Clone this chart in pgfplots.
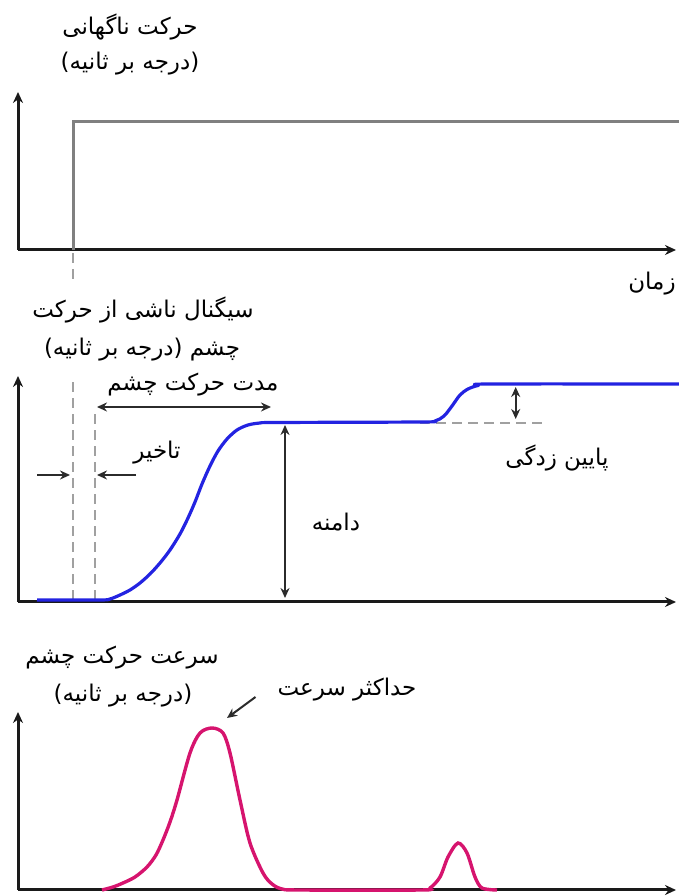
\documentclass[border=0pt]{standalone}
\usepackage{pgfplots}
\pgfplotsset{compat=1.18}
\usepackage{fontspec}
\usetikzlibrary{arrows.meta}
\TeXXeTstate=1
\newfontfamily\arabicfont[Script=Arabic]{DejaVu Sans}
\newcommand{\fa}[1]{{\arabicfont\fontsize{23}{27}\selectfont\beginR #1\endR}}

\definecolor{stepgray}{HTML}{808080}
\definecolor{dashgray}{HTML}{A0A0A0}
\definecolor{axisblack}{HTML}{1A1A1A}
\definecolor{annot}{HTML}{2B2B2B}
\definecolor{eyeblue}{RGB}{35,35,225}
\definecolor{velmag}{RGB}{214,20,110}

\pgfplotsset{
  panel/.style={
    axis lines=left,
    axis line style={line width=3pt, axisblack, -{Stealth[length=11pt,width=10pt]}},
    ticks=none,
    x=1pt, y=1pt,
    xmin=18, xmax=676, ymin=0,
    clip=false,
    anchor=south west,
  },
}
\tikzset{
  dbl/.style={annot, line width=2pt, {Stealth[length=10pt,width=9pt]}-{Stealth[length=10pt,width=9pt]}},
  sgl/.style={annot, line width=2pt, -{Stealth[length=10pt,width=9pt]}},
  guide/.style={dashgray, line width=1.6pt, dash pattern=on 10pt off 6pt},
}

\begin{document}
\begin{tikzpicture}[x=1pt,y=1pt]
\useasboundingbox (0,0) rectangle (679,896);

% --- sudden target step ---
\begin{axis}[panel, at={(18pt,646pt)}, ymax=158]
  \addplot[stepgray, line width=3pt] coordinates {(73,0) (73,128) (679,128)};
  \draw[guide] (axis cs:73,-3) -- (axis cs:73,-32);
  \node at (axis cs:130,223) {\fa{حرکت ناگهانی}};
  \node at (axis cs:130,186) {\fa{(درجه بر ثانیه)}};
  \node at (axis cs:652,-34) {\fa{زمان}};
\end{axis}

% --- eye position signal ---
\begin{axis}[panel, at={(18pt,294pt)}, ymax=226]
  \draw[guide] (axis cs:72.7,2) -- (axis cs:72.7,226);
  \draw[guide] (axis cs:95,2) -- (axis cs:95,192);
  \draw[guide] (axis cs:420,178.7) -- (axis cs:547,178.7);
  \addplot[eyeblue, line width=3.2pt, smooth, tension=0.5] coordinates {
    (37,2) (100,2) (110,3) (120,7) (130,12) (140,19) (150,28) (160,39)
    (170,52) (180,68) (188,84) (195,100) (202,118) (210,136) (218,151)
    (227,163) (237,172) (248,177) (260,179) (277,179.5)
    (420,180) (435,181) (444,186) (452,196) (460,207) (468,213) (478,216.5) (490,218) (679,218)};
  \draw[dbl] (axis cs:97,195) -- (axis cs:271,195);
  \draw[sgl] (axis cs:37,127) -- (axis cs:70,127);
  \draw[sgl] (axis cs:136,127) -- (axis cs:97,127);
  \draw[dbl] (axis cs:285,177) -- (axis cs:285,4);
  \draw[dbl] (axis cs:515.7,215) -- (axis cs:515.7,183);
  \node at (axis cs:143,292) {\fa{سیگنال ناشی از حرکت}};
  \node at (axis cs:142,252) {\fa{چشم (درجه بر ثانیه)}};
  \node at (axis cs:193,217) {\fa{مدت حرکت چشم}};
  \node at (axis cs:157,149) {\fa{تاخیر}};
  \node at (axis cs:336,80) {\fa{دامنه}};
  \node at (axis cs:557,144) {\fa{پایین زدگی}};
\end{axis}

% --- eye velocity ---
\begin{axis}[panel, at={(18pt,6pt)}, ymax=178]
  \addplot[velmag, line width=3.4pt, smooth, tension=0.5] coordinates {
    (102,0) (113,3) (123,7) (135,13) (147,23) (156,35) (163,50) (170,68) (177,90)
    (190,137) (200,157) (212,162) (223,157) (230,137) (240,90) (250,47)
    (263,17) (272,6) (282,1) (300,0)
    (420,0) (430,2) (440,13) (448,33) (458,47) (467,37) (475,13) (482,2) (497,0)};
  \draw[sgl] (axis cs:255.5,193) -- (axis cs:227,172);
  \node at (axis cs:122,232) {\fa{سرعت حرکت چشم}};
  \node at (axis cs:123,194) {\fa{(درجه بر ثانیه)}};
  \node at (axis cs:347,200) {\fa{حداکثر سرعت}};
\end{axis}
\end{tikzpicture}
\end{document}
